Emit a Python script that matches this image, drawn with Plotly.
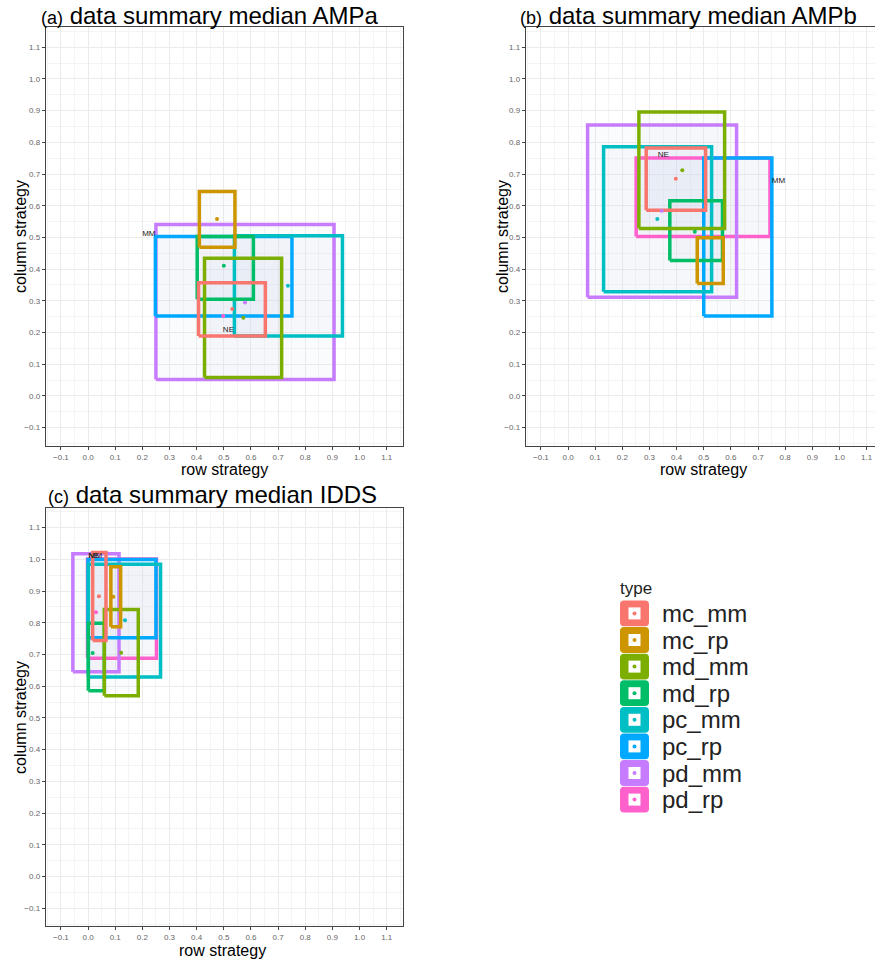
import plotly.graph_objects as go

W, H = 875, 962

types = ["mc_mm", "mc_rp", "md_mm", "md_rp", "pc_mm", "pc_rp", "pd_mm", "pd_rp"]
colors = ["#F8766D", "#CD9600", "#7CAE00", "#00BE67", "#00BFC4", "#00A9FF", "#C77CFF", "#FF61CC"]

# ---- panel (a) AMPa ----
a_xmin = [0.407, 0.410, 0.429, 0.402, 0.539, 0.248, 0.250, None]
a_xmax = [0.653, 0.541, 0.713, 0.609, 0.937, 0.751, 0.906, None]
a_ymin = [0.189, 0.469, 0.058, 0.305, 0.189, 0.252, 0.052, None]
a_ymax = [0.357, 0.645, 0.434, 0.503, 0.505, 0.503, 0.541, None]
a_px = [0.531, 0.475, 0.572, 0.500, 0.736, None, 0.578, 0.498]
a_py = [0.274, 0.558, 0.247, 0.411, 0.348, None, 0.295, 0.252]
a_lab = ["MM", "NE"]
a_lx = [0.224, 0.517]
a_ly = [0.510, 0.208]

# ---- panel (b) AMPb ----
b_xmin = [0.288, 0.476, 0.261, 0.375, 0.131, 0.500, 0.072, 0.251]
b_xmax = [0.507, 0.572, 0.577, 0.569, 0.529, 0.751, 0.621, 0.744]
b_ymin = [0.586, 0.355, 0.528, 0.427, 0.329, 0.252, 0.311, 0.503]
b_ymax = [0.782, 0.499, 0.896, 0.616, 0.786, 0.751, 0.855, 0.751]
b_px = [0.397, None, 0.421, 0.467, 0.329, None, 0.345, None]
b_py = [0.685, None, 0.712, 0.518, 0.558, None, 0.584, None]
b_lab = ["NE", "MM"]
b_lx = [0.351, 0.775]
b_ly = [0.760, 0.678]

# ---- panel (c) IDDS ----
c_xmin = [0.017, 0.084, 0.060, 0.001, 0.001, 0.000, -0.056, -0.002]
c_xmax = [0.066, 0.120, 0.185, 0.060, 0.267, 0.250, 0.114, 0.252]
c_ymin = [0.744, 0.788, 0.570, 0.586, 0.629, 0.753, 0.646, 0.688]
c_ymax = [1.022, 0.977, 0.842, 0.799, 0.985, 1.000, 1.018, 1.001]
c_px = [0.040, 0.093, 0.122, 0.017, 0.136, None, None, 0.029]
c_py = [0.884, 0.882, 0.706, 0.705, 0.808, None, None, 0.833]
c_lab = ["NE", "MM"]
c_lx = [0.021, 0.027]
c_ly = [1.010, 1.010]

titles = ["data summary median AMPa", "data summary median AMPb", "data summary median IDDS"]
tags = ["(a)", "(b)", "(c)"]
xlab = "row strategy"
ylab = "column strategy"

FONT = "Liberation Sans, Arial"


def px_x(p):
    return p / W


def px_y(p):
    return 1 - p / H


fig = go.Figure()

panels = [
    (a_xmin, a_xmax, a_ymin, a_ymax, a_px, a_py, a_lab, a_lx, a_ly),
    (b_xmin, b_xmax, b_ymin, b_ymax, b_px, b_py, b_lab, b_lx, b_ly),
    (c_xmin, c_xmax, c_ymin, c_ymax, c_px, c_py, c_lab, c_lx, c_ly),
]

# rectangles are painted last-type-first (mc_mm ends on top)
order = list(range(len(types)))[::-1]

for k, (x0s, x1s, y0s, y1s, pxs, pys, labs, lxs, lys) in enumerate(panels):
    xa = "x" if k == 0 else f"x{k+1}"
    ya = "y" if k == 0 else f"y{k+1}"
    # faint fills first
    for i in order:
        if x0s[i] is not None:
            fig.add_trace(go.Scatter(
                x=[x0s[i], x1s[i], x1s[i], x0s[i], x0s[i]],
                y=[y0s[i], y0s[i], y1s[i], y1s[i], y0s[i]],
                mode="lines", fill="toself", fillcolor="rgba(210,218,238,0.10)",
                line=dict(width=0), xaxis=xa, yaxis=ya,
                showlegend=False, hoverinfo="skip", name=types[i]))
    # outlines
    for i in order:
        if x0s[i] is not None:
            fig.add_trace(go.Scatter(
                x=[x0s[i], x1s[i], x1s[i], x0s[i], x0s[i]],
                y=[y0s[i], y0s[i], y1s[i], y1s[i], y0s[i]],
                mode="lines", line=dict(color=colors[i], width=3.5),
                xaxis=xa, yaxis=ya, showlegend=False, hoverinfo="skip", name=types[i]))
    for i, t in enumerate(types):
        if pxs[i] is not None:
            fig.add_trace(go.Scatter(
                x=[pxs[i]], y=[pys[i]], mode="markers",
                marker=dict(color=colors[i], size=4), xaxis=xa, yaxis=ya,
                showlegend=False, name=t))
    fig.add_trace(go.Scatter(
        x=lxs, y=lys, mode="text", text=labs,
        textfont=dict(size=8, color="#222222", family=FONT),
        xaxis=xa, yaxis=ya, showlegend=False, hoverinfo="skip"))

axis_common = dict(
    showgrid=True, gridcolor="#EBEBEB", gridwidth=1,
    minor=dict(dtick=0.05, showgrid=True, gridcolor="#F4F4F4", gridwidth=0.6),
    zeroline=False, showline=True, linecolor="#444444", linewidth=1, mirror=True,
    ticks="outside", ticklen=3, tickcolor="#444444", tickwidth=1,
    tickfont=dict(size=8, color="#666666", family=FONT),
    tick0=-0.1, dtick=0.1, tickformat=".1f", fixedrange=True,
)

# pixel boxes of the three panels
boxes = [
    (45.7, 403.0, 27.0, 446.0, [-0.156, 1.160], [-0.158, 1.164]),
    (525.7, 875.0, 27.0, 446.0, [-0.156, 1.131], [-0.158, 1.164]),
    (45.7, 403.0, 507.7, 926.0, [-0.156, 1.160], [-0.156, 1.163]),
]
for k, (l, r, t, b, xr, yr) in enumerate(boxes):
    xkey = "xaxis" if k == 0 else f"xaxis{k+1}"
    ykey = "yaxis" if k == 0 else f"yaxis{k+1}"
    ya = "y" if k == 0 else f"y{k+1}"
    xa = "x" if k == 0 else f"x{k+1}"
    fig.layout[xkey] = dict(axis_common, domain=[px_x(l), min(1.0, px_x(r))], range=xr, anchor=ya)
    fig.layout[ykey] = dict(axis_common, domain=[px_y(b), px_y(t)], range=yr, anchor=xa)

ann = []
title_pos = [(39, 15), (518, 15), (46, 495)]
for k in range(3):
    tx, ty = title_pos[k]
    ann.append(dict(
        x=px_x(tx), y=px_y(ty), xref="paper", yref="paper", xanchor="left", yanchor="middle",
        text=f"<span style='font-size:18px'>{tags[k]}</span> {titles[k]}", showarrow=False,
        font=dict(size=24, color="black", family=FONT)))

xlab_pos = [(224, 469), (703, 469), (223, 950)]
ylab_pos = [(20, 237), (502, 237), (20, 718)]
for k in range(3):
    ann.append(dict(x=px_x(xlab_pos[k][0]), y=px_y(xlab_pos[k][1]), xref="paper", yref="paper",
                    text=xlab, showarrow=False, xanchor="center", yanchor="middle",
                    font=dict(size=16, color="black", family=FONT)))
    ann.append(dict(x=px_x(ylab_pos[k][0]), y=px_y(ylab_pos[k][1]), xref="paper", yref="paper",
                    text=ylab, showarrow=False, xanchor="center", yanchor="middle", textangle=-90,
                    font=dict(size=16, color="black", family=FONT)))

# manual legend
shapes = []
ann.append(dict(x=px_x(618), y=px_y(588), xref="paper", yref="paper", text="type",
                showarrow=False, xanchor="left", yanchor="middle",
                font=dict(size=17, color="#222222", family=FONT)))


def rounded_rect(x0, y0, x1, y1, r):
    # pixel coordinates, y downwards -> paper path
    def P(x, y):
        return f"{px_x(x):.5f},{px_y(y):.5f}"
    return (f"M {P(x0 + r, y0)} L {P(x1 - r, y0)} Q {P(x1, y0)} {P(x1, y0 + r)} "
            f"L {P(x1, y1 - r)} Q {P(x1, y1)} {P(x1 - r, y1)} L {P(x0 + r, y1)} "
            f"Q {P(x0, y1)} {P(x0, y1 - r)} L {P(x0, y0 + r)} Q {P(x0, y0)} {P(x0 + r, y0)} Z")


key_top0 = 600.5
step = 26.6
for i, t in enumerate(types):
    top = key_top0 + i * step
    bot = top + 25.8
    cy = (top + bot) / 2
    shapes.append(dict(type="path", xref="paper", yref="paper",
                       path=rounded_rect(620, top, 649, bot, 4),
                       fillcolor=colors[i], line=dict(width=0), layer="above"))
    shapes.append(dict(type="rect", xref="paper", yref="paper",
                       x0=px_x(628.5), x1=px_x(640.5), y0=px_y(cy + 6), y1=px_y(cy - 6),
                       fillcolor="white", line=dict(width=0), layer="above"))
    shapes.append(dict(type="circle", xref="paper", yref="paper",
                       x0=px_x(632.5), x1=px_x(636.5), y0=px_y(cy + 2), y1=px_y(cy - 2),
                       fillcolor=colors[i], line=dict(width=0), layer="above"))
    ann.append(dict(x=px_x(660), y=px_y(cy), xref="paper", yref="paper", text=t,
                    showarrow=False, xanchor="left", yanchor="middle",
                    font=dict(size=24, color="#222222", family=FONT)))

fig.update_layout(
    width=W, height=H, margin=dict(l=0, r=0, t=0, b=0),
    paper_bgcolor="white", plot_bgcolor="white",
    annotations=ann, shapes=shapes, showlegend=False,
)

fig.write_html("out.html")
